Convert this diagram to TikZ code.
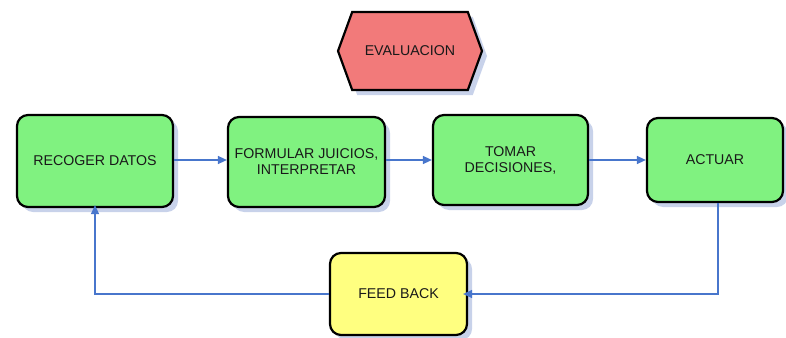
\documentclass[tikz,border=0pt]{standalone}
\usepackage{fontspec}
\setmainfont{Liberation Sans}
\usetikzlibrary{shapes.symbols,shadows,arrows.meta}
\definecolor{boxgreen}{RGB}{128,242,128}
\definecolor{hexred}{RGB}{242,122,122}
\definecolor{fbyellow}{RGB}{255,255,128}
\definecolor{arrowblue}{RGB}{72,118,204}
\definecolor{shadowblue}{RGB}{200,210,234}
\tikzset{
  x=1pt, y=-1pt,
  shadowed/.style={drop shadow={shadow xshift=5pt, shadow yshift=-5pt, fill=shadowblue, opacity=1}},
  stepbox/.style={draw=black, line width=2.2pt, rounded corners=11pt, fill=boxgreen,
    shadowed, align=center, inner sep=1pt, text=black!90,
    font=\fontsize{14.2}{16}\selectfont},
  hexbox/.style={signal, signal to=west and east, signal pointer angle=140,
    draw=black, line width=2.2pt, fill=hexred, shadowed, text=black!90,
    font=\fontsize{14.2}{16}\selectfont, minimum width=144pt, minimum height=78pt, inner sep=0pt},
  flow/.style={draw=arrowblue, line width=1.4pt, -{Triangle[length=9pt,width=8pt]}},
}
\begin{document}
\begin{tikzpicture}
\useasboundingbox (0,0) rectangle (786,337);
\node[hexbox] (eval) at (410,51) {EVALUACION};
\node[stepbox, minimum width=156pt, minimum height=92pt] (recoger) at (95,161) {RECOGER DATOS};
\node[stepbox, minimum width=157pt, minimum height=90pt] (formular) at (306.5,162) {FORMULAR JUICIOS,\\INTERPRETAR};
\node[stepbox, minimum width=155pt, minimum height=90pt] (tomar) at (510.5,160) {TOMAR\\DECISIONES,};
\node[stepbox, minimum width=136pt, minimum height=84pt] (actuar) at (715,160) {ACTUAR};
\node[stepbox, fill=fbyellow, minimum width=137pt, minimum height=82pt] (feed) at (398.5,294) {FEED BACK};
\draw[flow] (recoger.east |- 0,160) -- (formular.west |- 0,160);
\draw[flow] (formular.east |- 0,160) -- (tomar.west |- 0,160);
\draw[flow] (tomar.east |- 0,160) -- (actuar.west |- 0,160);
\draw[flow, shorten >=-5pt] ([xshift=3pt]actuar.south) |- (feed.east);
\draw[flow, shorten >=-3pt] (feed.west) -| (recoger.south);
\end{tikzpicture}
\end{document}
